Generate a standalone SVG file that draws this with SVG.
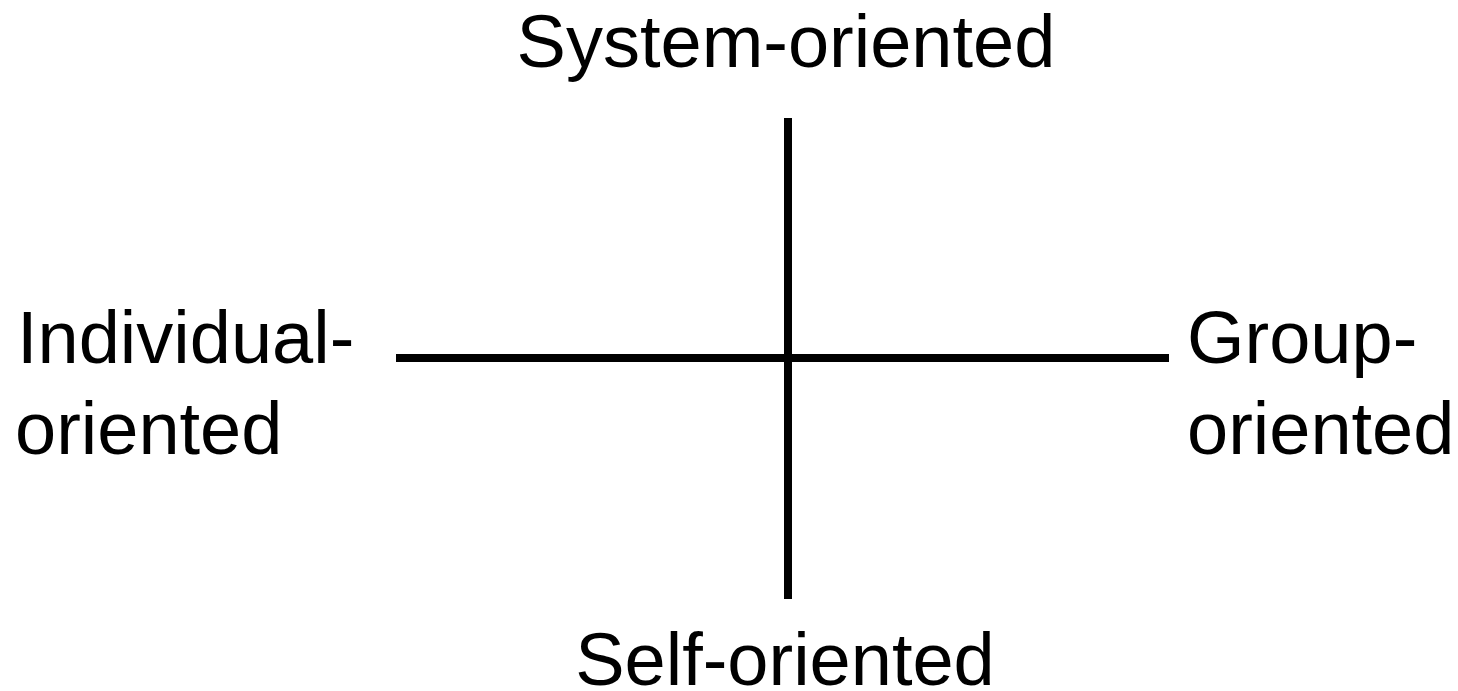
<svg xmlns="http://www.w3.org/2000/svg" width="1458" height="691" viewBox="0 0 1458 691">
<style>
.lbl{font-family:"Liberation Sans",Arial,sans-serif;font-size:74px;fill:#000}
.ax{stroke:#000;stroke-width:8;fill:none}
</style>
<rect width="1458" height="691" fill="#fff"/>
<g id="connectors">
<line class="ax" x1="788" y1="118" x2="788" y2="599"/>
<line class="ax" x1="396" y1="358" x2="1169" y2="358"/>
</g>
<g id="system"><text class="lbl" x="786" y="67" text-anchor="middle">System-oriented</text></g>
<g id="self"><text class="lbl" x="785" y="685" text-anchor="middle">Self-oriented</text></g>
<g id="individual"><text class="lbl" x="17" y="363">Individual-</text><text class="lbl" x="15" y="454">oriented</text></g>
<g id="group"><text class="lbl" x="1187" y="363">Group-</text><text class="lbl" x="1187" y="454">oriented</text></g>
</svg>
